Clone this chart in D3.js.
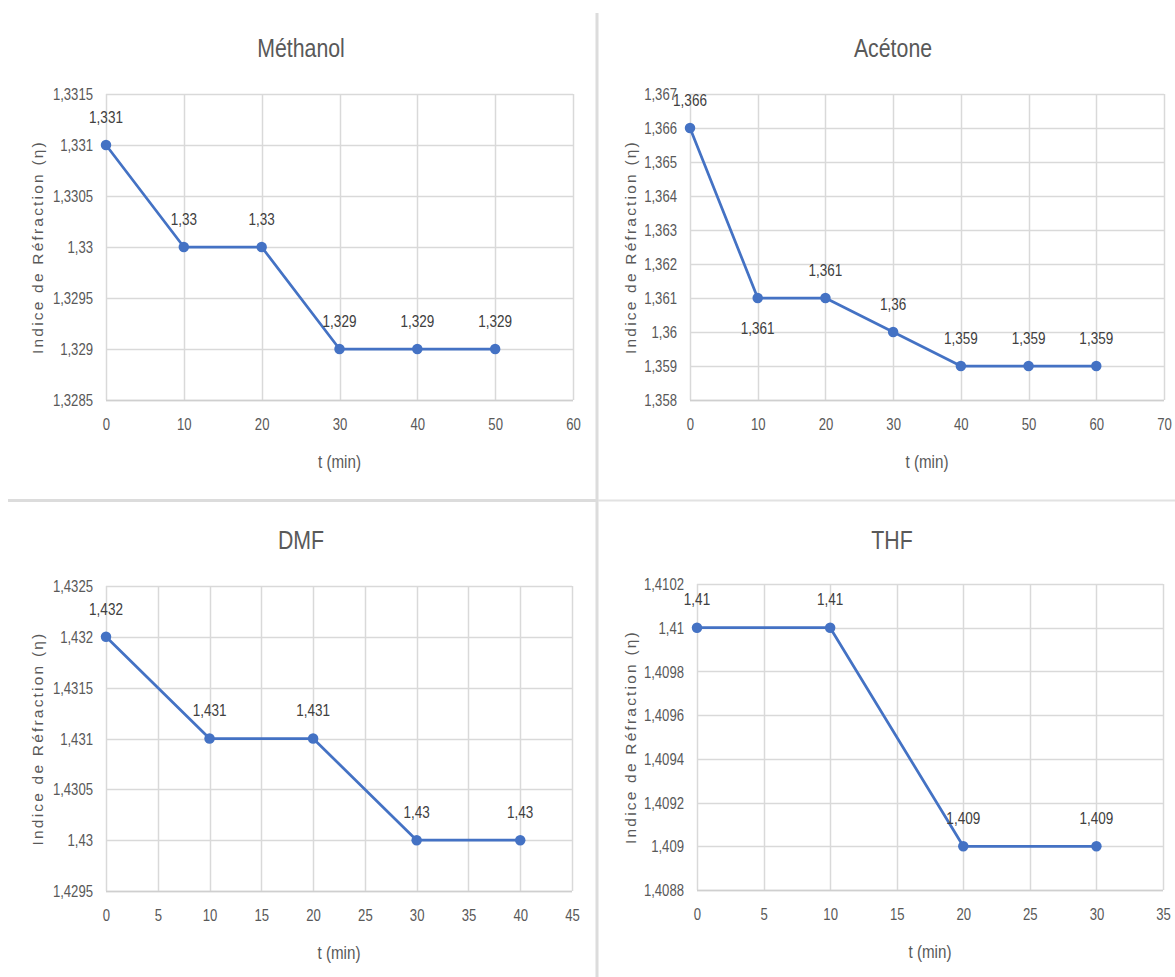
<!DOCTYPE html>
<html>
<head>
<meta charset="utf-8">
<script src="https://cdn.jsdelivr.net/npm/d3@7"></script>
<style>
  html, body { margin: 0; padding: 0; background: #fff; }
  svg { display: block; }
  text { font-family: "Liberation Sans", Arial, sans-serif; }
</style>
</head>
<body>
<svg id="chart" width="1175" height="977"></svg>
<script>
// Refractive index measured over time for four solvents
const methanolTime = [0, 10, 20, 30, 40, 50];
const methanolIndex = [1.331, 1.330, 1.330, 1.329, 1.329, 1.329];
const methanolXTicks = [0, 10, 20, 30, 40, 50, 60];
const methanolYTicks = [1.3285, 1.329, 1.3295, 1.33, 1.3305, 1.331, 1.3315];

const acetoneTime = [0, 10, 20, 30, 40, 50, 60];
const acetoneIndex = [1.366, 1.361, 1.361, 1.360, 1.359, 1.359, 1.359];
const acetoneXTicks = [0, 10, 20, 30, 40, 50, 60, 70];
const acetoneYTicks = [1.358, 1.359, 1.36, 1.361, 1.362, 1.363, 1.364, 1.365, 1.366, 1.367];

const dmfTime = [0, 10, 20, 30, 40];
const dmfIndex = [1.432, 1.431, 1.431, 1.430, 1.430];
const dmfXTicks = [0, 5, 10, 15, 20, 25, 30, 35, 40, 45];
const dmfYTicks = [1.4295, 1.43, 1.4305, 1.431, 1.4315, 1.432, 1.4325];

const thfTime = [0, 10, 20, 30];
const thfIndex = [1.410, 1.410, 1.409, 1.409];
const thfXTicks = [0, 5, 10, 15, 20, 25, 30, 35];
const thfYTicks = [1.4088, 1.409, 1.4092, 1.4094, 1.4096, 1.4098, 1.41, 1.4102];

const chartTitles = ["Méthanol", "Acétone", "DMF", "THF"];
const xAxisTitle = "t (min)";
const yAxisTitle = "Indice de Réfraction (η)";

const frLocale = d3.formatLocale({ decimal: ",", thousands: " ", grouping: [3], currency: ["", " €"] });
const fmt = frLocale.format("~g");

const svg = d3.select("#chart");

// separators between the four charts
svg.append("line").attr("x1", 597).attr("x2", 597).attr("y1", 13).attr("y2", 977)
  .attr("stroke", "#dcdcdc").attr("stroke-width", 3);
svg.append("line").attr("x1", 8).attr("x2", 596).attr("y1", 500.5).attr("y2", 500.5)
  .attr("stroke", "#dcdcdc").attr("stroke-width", 3);
svg.append("line").attr("x1", 598).attr("x2", 1175).attr("y1", 500.5).attr("y2", 500.5)
  .attr("stroke", "#e2e2e2").attr("stroke-width", 2);

const BLUE = "#4472C4";
const GRID = "#d9d9d9";
const TEXT = "#595959";
const LABEL = "#404040";
const NARROW = 0.82;   // horizontal squeeze giving a condensed face

// place a text at (x, y) with condensed glyphs
function placeNarrow(sel, fx, fy) {
  sel.attr("transform", (d, i) => `translate(${fx(d, i)},${fy(d, i)}) scale(${NARROW},1)`);
}

function drawPanel(opt) {
  const g = svg.append("g");
  const x = d3.scaleLinear().domain(d3.extent(opt.xTicks)).range([opt.left, opt.right]);
  const y = d3.scaleLinear().domain(d3.extent(opt.yTicks)).range([opt.bottom, opt.top]);

  // gridlines
  g.append("g").selectAll("line").data(opt.yTicks).join("line")
    .attr("x1", opt.left).attr("x2", opt.right)
    .attr("y1", d => Math.round(y(d)) + 0.5).attr("y2", d => Math.round(y(d)) + 0.5)
    .attr("stroke", GRID).attr("stroke-width", 1.5);
  g.append("g").selectAll("line").data(opt.xTicks).join("line")
    .attr("y1", opt.top).attr("y2", opt.bottom)
    .attr("x1", d => Math.round(x(d)) + 0.5).attr("x2", d => Math.round(x(d)) + 0.5)
    .attr("stroke", GRID).attr("stroke-width", 1.5);
  // bottom axis line
  g.append("line").attr("x1", opt.left).attr("x2", opt.right)
    .attr("y1", Math.round(opt.bottom) + 0.5).attr("y2", Math.round(opt.bottom) + 0.5)
    .attr("stroke", "#cfcfcf").attr("stroke-width", 1.5);

  // tick labels
  const xAxis = d3.axisBottom(x).tickValues(opt.xTicks).tickSize(0).tickPadding(0).tickFormat(fmt);
  const xa = g.append("g").attr("transform", `translate(0,${opt.bottom + 30})`).call(xAxis);
  xa.select(".domain").remove();
  xa.attr("font-family", null).attr("font-size", null);
  xa.selectAll("text").attr("x", null).attr("y", null).attr("dy", 0)
    .attr("transform", `scale(${NARROW},1)`)
    .attr("font-size", 16).attr("fill", TEXT);

  const yAxis = d3.axisLeft(y).tickValues(opt.yTicks).tickSize(0).tickPadding(0).tickFormat(fmt);
  const ya = g.append("g").attr("transform", `translate(${opt.yLabelRight},0)`).call(yAxis);
  ya.select(".domain").remove();
  ya.attr("font-family", null).attr("font-size", null);
  ya.selectAll("text").attr("x", null).attr("dy", "0.35em")
    .attr("transform", `scale(${NARROW},1)`)
    .attr("font-size", 16).attr("fill", TEXT);

  // series
  const line = d3.line().x((d, i) => x(opt.time[i])).y(d => y(d));
  g.append("path").datum(opt.values).attr("d", line)
    .attr("fill", "none").attr("stroke", BLUE).attr("stroke-width", 2.75)
    .attr("stroke-linejoin", "round");
  g.append("g").selectAll("circle").data(opt.values).join("circle")
    .attr("cx", (d, i) => x(opt.time[i])).attr("cy", d => y(d))
    .attr("r", 5.25).attr("fill", BLUE);

  // value labels
  g.append("g").selectAll("text").data(opt.values).join("text")
    .call(placeNarrow, (d, i) => x(opt.time[i]),
      (d, i) => y(d) + ((opt.below || []).includes(i) ? 30 : -28))
    .attr("dy", "0.35em").attr("text-anchor", "middle")
    .attr("font-size", 16.5).attr("fill", LABEL)
    .text(d => fmt(d));

  // titles
  g.append("text").datum(opt.title)
    .call(placeNarrow, () => opt.titleX, () => opt.titleY)
    .attr("dy", "0.35em").attr("text-anchor", "middle")
    .attr("font-size", 26).attr("fill", TEXT)
    .text(opt.title);
  g.append("text").datum(xAxisTitle)
    .call(placeNarrow, () => (opt.left + opt.right) / 2, () => opt.bottom + 62)
    .attr("dy", "0.35em").attr("text-anchor", "middle")
    .attr("font-size", 18.5).attr("fill", TEXT)
    .text(xAxisTitle);
  g.append("text")
    .attr("transform", `translate(${opt.yTitleX},${(opt.top + opt.bottom) / 2}) rotate(-90)`)
    .attr("dy", "0.35em").attr("text-anchor", "middle")
    .attr("font-size", 15.5).attr("letter-spacing", 2.2).attr("fill", TEXT)
    .text(yAxisTitle);
}

drawPanel({ title: chartTitles[0], time: methanolTime, values: methanolIndex,
  xTicks: methanolXTicks, yTicks: methanolYTicks,
  left: 106, right: 573, top: 94, bottom: 400, yLabelRight: 93, yTitleX: 38, titleX: 301, titleY: 48 });
drawPanel({ title: chartTitles[1], time: acetoneTime, values: acetoneIndex,
  xTicks: acetoneXTicks, yTicks: acetoneYTicks, below: [1],
  left: 690, right: 1164, top: 94, bottom: 400, yLabelRight: 677, yTitleX: 631, titleX: 893, titleY: 48 });
drawPanel({ title: chartTitles[2], time: dmfTime, values: dmfIndex,
  xTicks: dmfXTicks, yTicks: dmfYTicks,
  left: 106, right: 572, top: 586, bottom: 891, yLabelRight: 93, yTitleX: 38, titleX: 301, titleY: 540 });
drawPanel({ title: chartTitles[3], time: thfTime, values: thfIndex,
  xTicks: thfXTicks, yTicks: thfYTicks,
  left: 697, right: 1163, top: 584, bottom: 890, yLabelRight: 684, yTitleX: 631, titleX: 892, titleY: 540 });
</script>
</body>
</html>
